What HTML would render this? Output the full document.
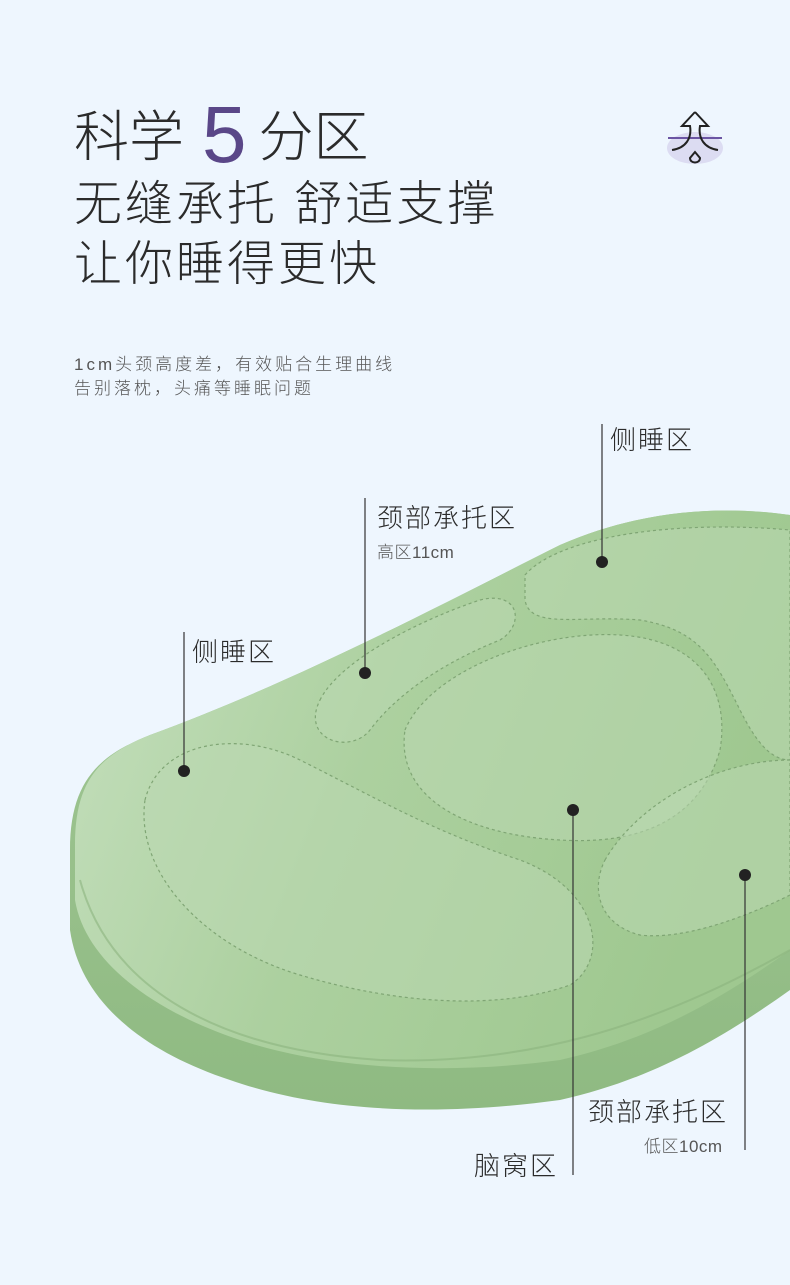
<!DOCTYPE html>
<html><head><meta charset="utf-8"><style>
html,body{margin:0;padding:0}
body{width:790px;height:1285px;background:#eef6fe;position:relative;overflow:hidden;font-family:"Liberation Sans","Noto Sans CJK SC",sans-serif;color:#2b2b2b}
.t{position:absolute;white-space:nowrap;font-weight:300}
.l{font-size:26px;letter-spacing:2px}
.s{font-size:17px;color:#555;letter-spacing:0.5px}
</style></head><body>
<svg width="790" height="1285" style="position:absolute;left:0;top:0">
<defs>
<linearGradient id="g1" x1="0" y1="0" x2="1" y2="0.3">
<stop offset="0" stop-color="#c6e0bf"/><stop offset="0.5" stop-color="#acd09f"/><stop offset="1" stop-color="#9fc890"/></linearGradient>
<linearGradient id="g2" x1="0" y1="0" x2="0" y2="1">
<stop offset="0" stop-color="#a4c998"/><stop offset="1" stop-color="#8fba82"/></linearGradient>
</defs>
<path d="M70 850 C70 780 100 755 150 735 C300 680 450 600 560 545 C640 510 720 505 790 515 L790 990 C720 1040 650 1080 560 1100 C450 1115 330 1115 230 1080 C140 1050 80 1000 70 930 Z" fill="url(#g2)"/>
<path d="M75 845 C75 780 100 755 150 735 C300 680 450 600 560 545 C640 510 720 505 790 515 L790 950 C720 1000 650 1040 560 1060 C450 1075 330 1070 240 1040 C150 1010 85 960 75 900 Z" fill="url(#g1)"/>
<path d="M80 880 C110 990 220 1050 380 1060 C520 1065 650 1030 790 950" fill="none" stroke="#8cb47f" stroke-width="2" opacity="0.6"/>
<g fill="#bcd9b2" fill-opacity="0.55" stroke="#7fa574" stroke-width="1.2" stroke-dasharray="3,3">
<path d="M145 800 C160 740 240 730 300 760 C380 800 430 830 520 860 C600 890 610 960 570 985 C500 1010 400 1005 300 975 C200 945 135 870 145 800 Z"/>
<path d="M320 700 C340 660 420 620 480 600 C520 590 525 625 500 640 C450 660 400 690 370 730 C350 755 300 740 320 700 Z"/>
<path d="M405 730 C430 670 540 630 620 635 C700 640 730 690 720 750 C700 820 640 845 560 840 C470 835 395 800 405 730 Z"/>
<path d="M525 575 C560 535 680 520 790 530 L790 760 C770 760 755 740 740 710 C715 660 700 630 640 620 C580 615 530 630 525 600 Z"/>
<path d="M605 860 C640 800 720 760 790 760 L790 895 C740 920 680 940 640 935 C600 925 590 890 605 860 Z"/>
</g>
<g stroke="#333" stroke-width="1.2">
<line x1="602" y1="424" x2="602" y2="562"/>
<line x1="365" y1="498" x2="365" y2="673"/>
<line x1="184" y1="632" x2="184" y2="771"/>
<line x1="573" y1="810" x2="573" y2="1175"/>
<line x1="745" y1="875" x2="745" y2="1150"/>
</g>
<g fill="#222"><circle cx="602" cy="562" r="6"/><circle cx="365" cy="673" r="6"/><circle cx="184" cy="771" r="6"/><circle cx="573" cy="810" r="6"/><circle cx="745" cy="875" r="6"/></g>
<g transform="translate(650,100)">
<ellipse cx="45" cy="48" rx="28" ry="16" fill="#dcdcf2"/>
<line x1="18" y1="38" x2="72" y2="38" stroke="#6b55a3" stroke-width="2"/>
<path d="M45 12 L32 26 L40 26 C42 38 36 48 22 50 M45 12 L58 26 L50 26 C48 38 54 48 68 50" fill="none" stroke="#222" stroke-width="2"/>
<path d="M45 52 L40 58 C40 64 50 64 50 58 Z" fill="none" stroke="#222" stroke-width="2"/>
</g>
</svg>
<div class="t" style="left:74px;top:100px;font-size:55px;line-height:70px">科学<span style="color:#5a4788;font-size:80px;font-weight:400;vertical-align:-6px;margin:0 12px 0 18px">5</span>分区</div>
<div class="t" style="left:74px;top:176px;font-size:48px;line-height:58px;letter-spacing:3px">无缝承托 舒适支撑</div>
<div class="t" style="left:74px;top:236px;font-size:48px;line-height:58px;letter-spacing:3px">让你睡得更快</div>
<div class="t" style="left:74px;top:353px;font-size:17px;color:#555;line-height:24px;letter-spacing:3px">1cm头颈高度差，有效贴合生理曲线<br>告别落枕，头痛等睡眠问题</div>
<div class="t l" style="left:610px;top:420px">侧睡区</div>
<div class="t l" style="left:377px;top:498px">颈部承托区</div>
<div class="t s" style="left:377px;top:538px">高区11cm</div>
<div class="t l" style="left:192px;top:632px">侧睡区</div>
<div class="t l" style="left:588px;top:1092px">颈部承托区</div>
<div class="t s" style="left:644px;top:1132px">低区10cm</div>
<div class="t l" style="left:474px;top:1146px">脑窝区</div>
</body></html>
